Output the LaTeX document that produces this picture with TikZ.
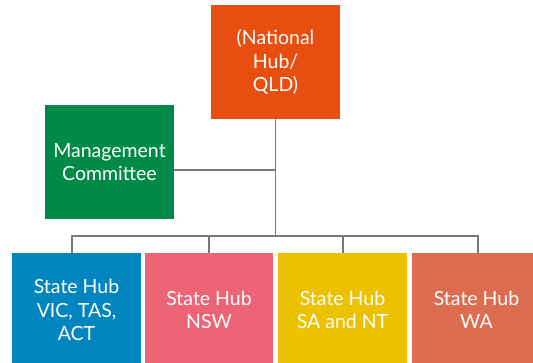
\documentclass[tikz,border=0pt]{standalone}
\usepackage{fontspec}
\setmainfont{Lato}
\definecolor{nhc}{HTML}{E84E0F}
\definecolor{mcc}{HTML}{008A47}
\definecolor{vicc}{HTML}{0085BF}
\definecolor{nswc}{HTML}{EC6475}
\definecolor{sac}{HTML}{EBC100}
\definecolor{wac}{HTML}{DD6D50}
\definecolor{linec}{HTML}{787878}
\tikzset{
  box/.style={rectangle, inner sep=0pt, minimum width=129pt, text=white, align=center,
    font=\fontsize{19.5}{23.5}\selectfont},
  conn/.style={draw=linec, line width=1.8pt}
}
\begin{document}
\begin{tikzpicture}[x=1pt,y=-1pt]
\useasboundingbox (0,0) rectangle (533,363);
\clip (0,0) rectangle (533,363);
\node[box, fill=nhc, minimum height=114pt] (nh) at (275.5,62) {(National\\Hub/\\QLD)};
\node[box, fill=mcc, minimum height=114pt] (mc) at (109.5,162) {Management\\Committee};
\node[box, fill=vicc, minimum height=114pt] (vic) at (76.5,310) {State Hub\\VIC, TAS,\\ACT};
\node[box, fill=nswc, minimum height=114pt, minimum width=128pt] (nsw) at (209,310) {State Hub\\NSW};
\node[box, fill=sac, minimum height=114pt] (sa) at (342.5,310) {State Hub\\SA and NT};
\node[box, fill=wac, minimum height=114pt] (wa) at (476.5,310) {State Hub\\WA};
\coordinate (j1) at (275.5,170);
\coordinate (j2) at (275.5,236);
\coordinate (b1) at (72,236);
\coordinate (b2) at (209,236);
\coordinate (b3) at (343,236);
\coordinate (b4) at (478,236);
\draw[conn] (nh.south) -- (j2);
\draw[conn] (j1 -| mc.east) -- (j1);
\draw[conn] (b1 |- vic.north) -- (b1) -- (b4) -- (b4 |- wa.north);
\draw[conn] (b2) -- (b2 |- nsw.north);
\draw[conn] (b3) -- (b3 |- sa.north);
\end{tikzpicture}
\end{document}
